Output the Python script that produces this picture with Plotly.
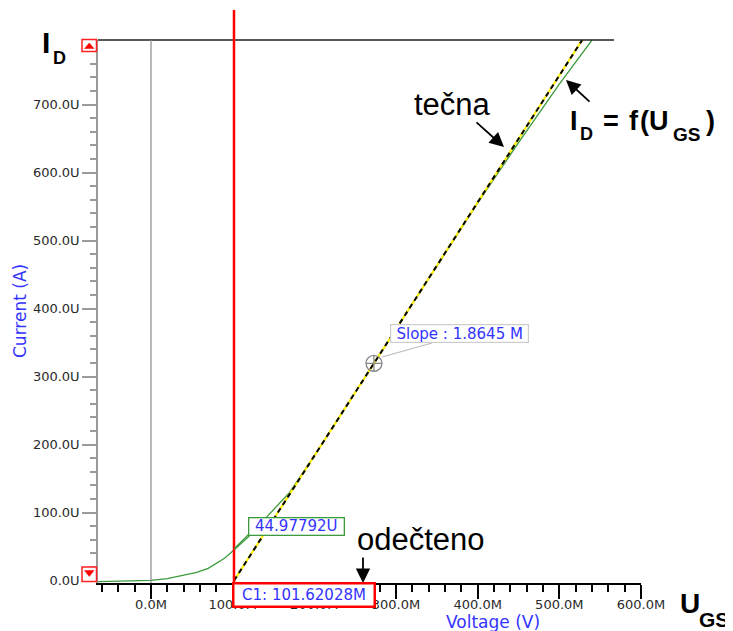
import plotly.graph_objects as go

# ---------------- data ----------------
vgs_mV = [-65, -40, -20, 0, 20, 35, 56, 70, 80, 90, 101.62, 119, 143.6, 170, 200, 273, 350, 400, 450, 500, 540]
id_uA = [-1.5, -0.5, 0.0, 0.5, 3, 6.5, 12, 18, 25, 33, 45, 64, 96, 130, 184, 320, 463, 555, 644, 730, 795]

c1_mV = 101.62028          # cursor C1 (threshold read-off)
c1_id_uA = 44.97792        # current at C1
slope = 1.8645             # tangent slope (uA per mV)
tangent_point_mV = 273     # where the slope marker sits

x_tickvals = [0, 100, 200, 300, 400, 500, 600]
x_ticktext = ["0.0M", "100.0M", "200.0M", "300.0M", "400.0M", "500.0M", "600.0M"]
y_tickvals = [0, 100, 200, 300, 400, 500, 600, 700]
y_ticktext = ["0.0U", "100.0U", "200.0U", "300.0U", "400.0U", "500.0U", "600.0U", "700.0U"]

x_range = [-64.9, 600]
y_range = [-3.5, 795]

# ---------------- geometry helpers (page pixel -> paper) ----------------
OFF = 8                      # default body margin of the html page
W, H = 733 - OFF, 631 - OFF  # figure size so that it ends at the window edge
PL, PR, PT, PB = 98, 641, 40, 583   # plot area in page pixels
def px(X):
    return (X - PL) / (PR - PL)
def py(Y):
    return (PB - Y) / (PB - PT)

BLUE = "#3333ff"
TICKFONT = dict(family="DejaVu Sans", size=13, color="#2a2a2a")

fig = go.Figure()

# measured curve
fig.add_trace(go.Scatter(x=vgs_mV, y=id_uA, mode="lines",
                         line=dict(color="#3d9a3d", width=1.3), hoverinfo="skip"))

# tangent line: yellow base with black dashes
tan_x = [c1_mV, c1_mV + y_range[1] / slope]
tan_y = [0, y_range[1]]
fig.add_trace(go.Scatter(x=tan_x, y=tan_y, mode="lines",
                         line=dict(color="#ffee00", width=2), hoverinfo="skip"))
fig.add_trace(go.Scatter(x=tan_x, y=tan_y, mode="lines",
                         line=dict(color="black", width=2, dash="5px,4px"), hoverinfo="skip"))

# slope marker
fig.add_trace(go.Scatter(x=[tangent_point_mV], y=[slope * (tangent_point_mV - c1_mV)],
                         mode="markers",
                         marker=dict(symbol="circle-cross-open", size=16,
                                     color="#888888", line=dict(width=1.3, color="#888888")),
                         hoverinfo="skip"))

shapes = [
    # top frame line
    dict(type="line", xref="paper", yref="paper", x0=0, x1=px(614), y0=1, y1=1,
         line=dict(color="#222222", width=1.5)),
    # zero-voltage vertical
    dict(type="line", xref="x", yref="paper", x0=0, x1=0, y0=0, y1=1,
         line=dict(color="#8a8a8a", width=1.2)),
    # cursor C1 red line
    dict(type="line", xref="x", yref="paper", x0=c1_mV, x1=c1_mV, y0=0, y1=py(10),
         line=dict(color="#ff0000", width=2.5)),
    # green connector for value box
    dict(type="line", xref="paper", yref="paper", x0=px(249), y0=py(534), x1=px(234), y1=py(549),
         line=dict(color="#3d9a3d", width=1.2)),
    # slope connector
    dict(type="line", xref="paper", yref="paper", x0=px(382), y0=py(357), x1=px(432), y1=py(343),
         line=dict(color="#bbbbbb", width=1.2)),
    # red triangle boxes
    dict(type="rect", xref="paper", yref="paper", x0=px(82), x1=px(96.5), y0=py(51.5), y1=py(39.5),
         line=dict(color="#ff2020", width=1.5), fillcolor="white"),
    dict(type="path", xref="paper", yref="paper",
         path=f"M {px(84.5)} {py(48.5)} L {px(94)} {py(48.5)} L {px(89.25)} {py(43)} Z",
         line=dict(color="#ff0000", width=0.5), fillcolor="#ff0000"),
    dict(type="rect", xref="paper", yref="paper", x0=px(82), x1=px(96.5), y0=py(581.5), y1=py(567),
         line=dict(color="#ff2020", width=1.5), fillcolor="white"),
    dict(type="path", xref="paper", yref="paper",
         path=f"M {px(84.5)} {py(570.5)} L {px(94)} {py(570.5)} L {px(89.25)} {py(576.5)} Z",
         line=dict(color="#ff0000", width=0.5), fillcolor="#ff0000"),
]

ann = []
def text(t, X, Y, size, bold=False, color="black", family="Liberation Sans", xanchor="center", angle=0):
    ann.append(dict(text=(f"<b>{t}</b>" if bold else t), x=px(X), y=py(Y), xref="paper", yref="paper",
                    showarrow=False, xanchor=xanchor, yanchor="middle", textangle=angle,
                    font=dict(family=family, size=size, color=color)))

def arrow(hx, hy, tx, ty):
    ann.append(dict(text="", x=px(hx), y=py(hy), xref="paper", yref="paper",
                    showarrow=True, ax=tx - hx, ay=ty - hy, arrowhead=2, arrowsize=1.6,
                    arrowwidth=1.8, arrowcolor="black", standoff=0))

# axis titles
text("Voltage (V)", 493, 622, 17, color=BLUE, family="DejaVu Sans")
text("Current (A)", 20, 311, 17, color=BLUE, family="DejaVu Sans", angle=-90)

# big labels
text("I", 46, 43, 30, bold=True)
text("D", 59, 58, 18, bold=True)
text("U", 690, 603, 28, bold=True)
text("GS", 714, 619, 21, bold=True)
text("tečna", 452.5, 104, 31)
text("odečteno", 420.5, 539, 31)
# I_D = f(U_GS)
text("I", 574, 120.5, 27, bold=True)
text("D", 586, 134, 18, bold=True)
text("=", 611, 120.5, 27, bold=True)
text("f", 633.5, 120.5, 27, bold=True)
text("(", 644, 120.5, 27, bold=True)
text("U", 659, 120.5, 27, bold=True)
text("GS", 686, 134, 19, bold=True)
text(")", 710, 120.5, 27, bold=True)

arrow(504, 147, 475, 121)
arrow(566, 80, 591, 103)
arrow(363, 583, 363, 556)

# boxed readouts
def box(t, X, Y, w, h, border, bw):
    ann.append(dict(text=t, x=px(X), y=py(Y), xref="paper", yref="paper", showarrow=False,
                    xanchor="center", yanchor="middle", width=w, height=h, borderpad=0,
                    bgcolor="white", bordercolor=border, borderwidth=bw,
                    font=dict(family="DejaVu Sans", size=15, color=BLUE)))

box(f"C1: {c1_mV:.5f}M", 304, 595, 139, 21, "#ff0000", 2.5)
box(f"{c1_id_uA:.5f}U", 296.5, 526, 94, 16, "#3d9a3d", 1.3)
box(f"Slope : {slope:.4f} M", 459.5, 333.5, 137, 17, "#cccccc", 1.2)

fig.update_layout(
    width=W, height=H,
    margin=dict(l=PL - OFF, r=733 - PR, t=PT - OFF, b=631 - PB, pad=0),
    plot_bgcolor="white", paper_bgcolor="white", showlegend=False,
    shapes=shapes, annotations=ann,
    xaxis=dict(range=x_range, tickmode="array", tickvals=x_tickvals, ticktext=x_ticktext,
               showgrid=False, zeroline=False, showline=True, linecolor="black", linewidth=2,
               ticks="outside", ticklen=14, tickwidth=1.5, tickcolor="black",
               tickfont=TICKFONT, ticklabelstandoff=-6,
               minor=dict(ticks="outside", ticklen=7, tickwidth=1.5, tickcolor="black",
                          tickmode="linear", tick0=0, dtick=20, showgrid=False)),
    yaxis=dict(range=y_range, tickmode="array", tickvals=y_tickvals, ticktext=y_ticktext,
               showgrid=False, zeroline=False, showline=True, linecolor="#9a9a9a", linewidth=1.5,
               ticks="outside", ticklen=14, tickwidth=1.5, tickcolor="#9a9a9a",
               tickfont=TICKFONT, ticklabelstandoff=0,
               minor=dict(ticks="outside", ticklen=6, tickwidth=1.5, tickcolor="#9a9a9a",
                          tickmode="linear", tick0=0, dtick=20, showgrid=False)),
)

fig.write_html("out.html")
